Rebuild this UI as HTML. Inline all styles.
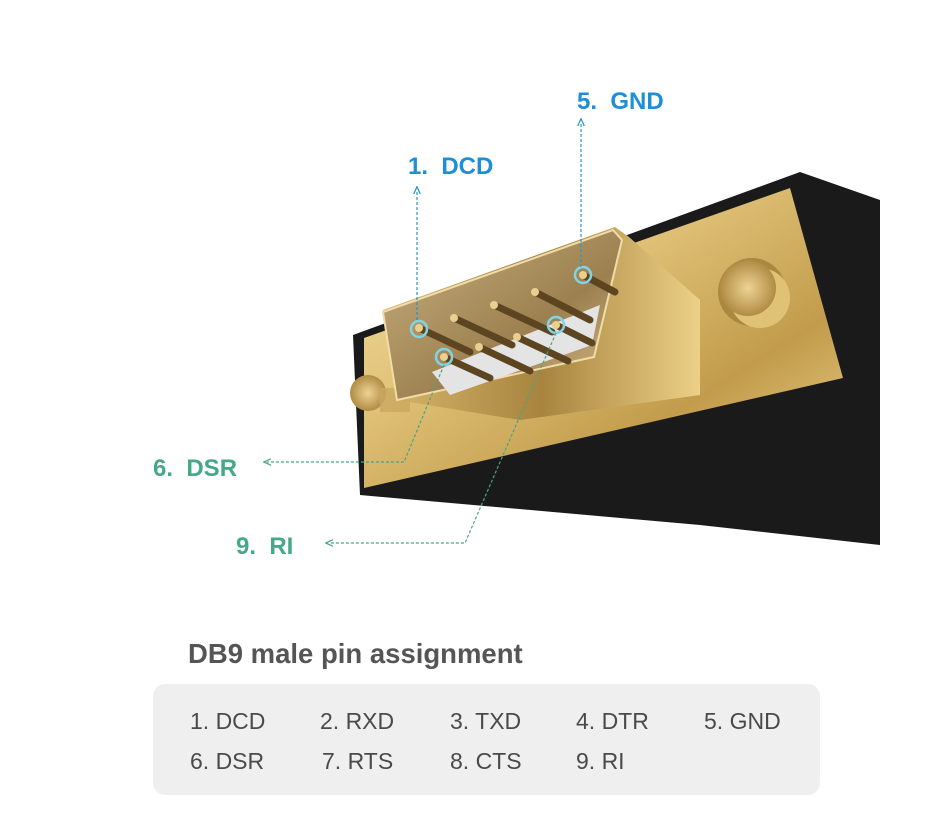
<!DOCTYPE html>
<html><head><meta charset="utf-8"><style>
html,body{margin:0;padding:0;background:#fff;}
body{width:925px;height:821px;position:relative;overflow:hidden;font-family:"Liberation Sans",Arial,sans-serif;}
.t{position:absolute;font-size:23px;color:#4a4a4a;}
</style></head><body>
<svg width="925" height="821" style="position:absolute;left:0;top:0">
<defs>
<linearGradient id="gp" x1="0" y1="0" x2="1" y2="1">
<stop offset="0" stop-color="#f5e3a8"/><stop offset="0.35" stop-color="#e2c47a"/><stop offset="0.7" stop-color="#c29c4c"/><stop offset="1" stop-color="#ecd08a"/></linearGradient>
<linearGradient id="gs" x1="0" y1="0" x2="1" y2="0">
<stop offset="0" stop-color="#d6b66c"/><stop offset="0.5" stop-color="#a8843e"/><stop offset="1" stop-color="#ecd088"/></linearGradient>
<linearGradient id="gf" x1="0" y1="0" x2="1" y2="1">
<stop offset="0" stop-color="#c9b080"/><stop offset="0.6" stop-color="#9c8050"/><stop offset="1" stop-color="#d9be88"/></linearGradient>
<radialGradient id="sc"><stop offset="0" stop-color="#eed394"/><stop offset="1" stop-color="#b08c44"/></radialGradient>
<marker id="ab" viewBox="0 0 10 10" refX="5" refY="5" markerWidth="7" markerHeight="7" orient="auto"><path d="M0,1 L9,5 L0,9" fill="none" stroke="#2a94c8" stroke-width="1.5"/></marker>
<marker id="ag" viewBox="0 0 10 10" refX="5" refY="5" markerWidth="7" markerHeight="7" orient="auto"><path d="M0,1 L9,5 L0,9" fill="none" stroke="#4aa486" stroke-width="1.5"/></marker>
</defs>
<polygon points="353,335 800,172 880,200 880,545 700,525 360,495" fill="#1a1a1a"/>
<polygon points="364,338 790,188 843,378 364,488" fill="url(#gp)"/>
<circle cx="752" cy="292" r="34" fill="#a9883f"/>
<circle cx="760" cy="298" r="30" fill="#e0c276"/>
<circle cx="748" cy="288" r="28" fill="url(#sc)"/>
<polygon points="383,310 615,227 629,237 700,300 700,395 520,420 397,400" fill="url(#gs)"/>
<circle cx="368" cy="393" r="18" fill="url(#sc)"/>
<rect x="380" y="388" width="30" height="24" fill="#c9a860" opacity="0.8"/>
<polygon points="383,312 613,230 622,240 594,357 397,400" fill="url(#gf)" stroke="#f0dca8" stroke-width="2"/>
<polygon points="432,372 600,305 592,345 450,395" fill="#e4e4e4"/>
<g stroke="#5c4520" stroke-width="7" stroke-linecap="round">
<line x1="419" y1="328" x2="470" y2="352"/>
<line x1="454" y1="318" x2="512" y2="345"/>
<line x1="494" y1="305" x2="552" y2="332"/>
<line x1="535" y1="292" x2="590" y2="320"/>
<line x1="583" y1="275" x2="615" y2="292"/>
<line x1="444" y1="357" x2="490" y2="378"/>
<line x1="479" y1="347" x2="530" y2="371"/>
<line x1="517" y1="337" x2="568" y2="361"/>
<line x1="556" y1="325" x2="592" y2="343"/>
</g>
<g fill="#e9d090">
<circle cx="419" cy="328" r="4"/><circle cx="454" cy="318" r="4"/><circle cx="494" cy="305" r="4"/><circle cx="535" cy="292" r="4"/><circle cx="583" cy="275" r="4"/>
<circle cx="444" cy="357" r="4"/><circle cx="479" cy="347" r="4"/><circle cx="517" cy="337" r="4"/><circle cx="556" cy="325" r="4"/>
</g>
<g fill="none" stroke="#7fd4e8" stroke-width="2.5">
<circle cx="419" cy="329" r="8"/><circle cx="583" cy="275" r="8"/><circle cx="444" cy="357" r="8"/><circle cx="556" cy="325" r="8"/>
</g>
<g fill="none" stroke-width="1.2" stroke-dasharray="3,2">
<line x1="417" y1="320" x2="417" y2="190" stroke="#2a94c8" marker-end="url(#ab)"/>
<line x1="581" y1="267" x2="581" y2="122" stroke="#2a94c8" marker-end="url(#ab)"/>
<polyline points="444,365 404,462 267,462" stroke="#4aa486" marker-end="url(#ag)"/>
<polyline points="556,333 465,543 329,543" stroke="#4aa486" marker-end="url(#ag)"/>
</g>
<g font-family="Liberation Sans, Arial, sans-serif" font-weight="bold" font-size="24">
<text x="577" y="109" fill="#1e8fd5">5.&#160;&#160;GND</text>
<text x="408" y="174" fill="#1e8fd5">1.&#160;&#160;DCD</text>
<text x="153" y="476" fill="#45a887">6.&#160;&#160;DSR</text>
<text x="236" y="554" fill="#45a887">9.&#160;&#160;RI</text>
</g>
</svg>
<div style="position:absolute;left:188px;top:638px;font-size:27.5px;font-weight:bold;color:#555;">DB9 male pin assignment</div>
<div style="position:absolute;left:153px;top:684px;width:667px;height:111px;background:#efefef;border-radius:12px;"></div>
<div class="t" style="left:190px;top:708px">1. DCD</div>
<div class="t" style="left:320px;top:708px">2. RXD</div>
<div class="t" style="left:450px;top:708px">3. TXD</div>
<div class="t" style="left:576px;top:708px">4. DTR</div>
<div class="t" style="left:704px;top:708px">5. GND</div>
<div class="t" style="left:190px;top:748px">6. DSR</div>
<div class="t" style="left:322px;top:748px">7. RTS</div>
<div class="t" style="left:450px;top:748px">8. CTS</div>
<div class="t" style="left:576px;top:748px">9. RI</div>
</body></html>
